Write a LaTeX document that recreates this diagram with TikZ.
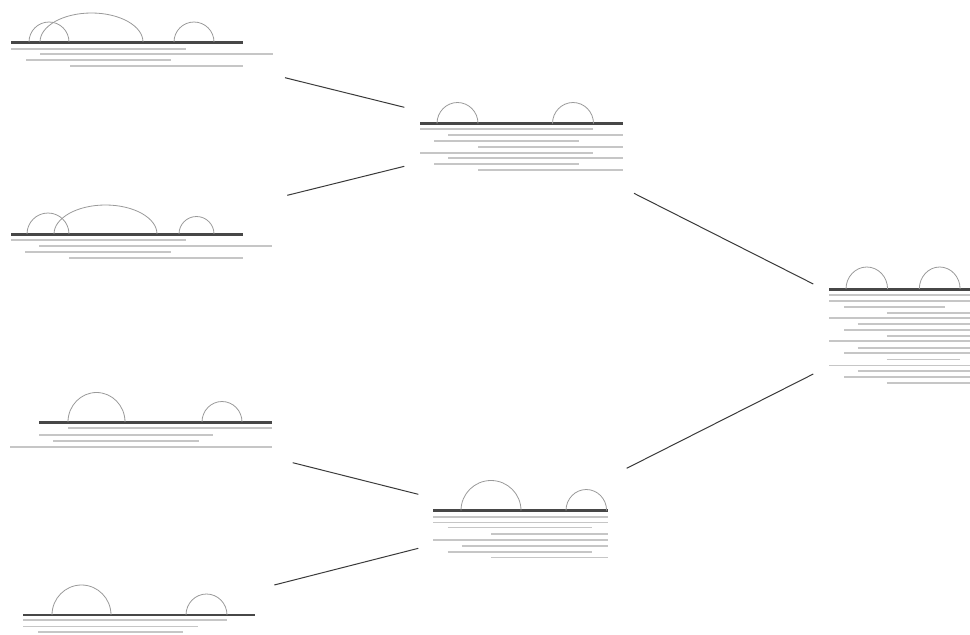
\documentclass[tikz,border=0pt]{standalone}
\usepackage{tikz}
\definecolor{barc}{HTML}{474747}
\definecolor{seqc}{HTML}{C6C6C6}
\definecolor{arcc}{HTML}{9A9A9A}
\definecolor{linkc}{HTML}{3A3A3A}
\tikzset{
  bar/.style={draw=barc,line width=2.6pt},
  seq/.style={draw=seqc,line width=1.9pt},
  bond/.style={draw=arcc,line width=0.8pt},
  link/.style={draw=linkc,line width=1pt},
}
\begin{document}
\begin{tikzpicture}[x=1pt,y=-1pt]
\useasboundingbox (0,0) rectangle (970,635);
\clip (0,0) rectangle (970,635);
% ---------- panel A (top left)
\draw[seq] (11,48.7) -- (186,48.7);
\draw[seq] (40,54.3) -- (273,54.3);
\draw[seq] (26,60) -- (171,60);
\draw[seq] (70,66) -- (243,66);
\draw[bar] (11,42.5) -- (243,42.5);
\draw[bond] (29,42) arc[start angle=180,end angle=0,x radius=20pt,y radius=20pt];
\draw[bond] (40,42) arc[start angle=180,end angle=0,x radius=51.5pt,y radius=29pt];
\draw[bond] (174,42) arc[start angle=180,end angle=0,x radius=20pt,y radius=20pt];
% ---------- panel B
\draw[seq] (11,240.3) -- (186,240.3);
\draw[seq] (39,246) -- (272,246);
\draw[seq] (25,251.7) -- (171,251.7);
\draw[seq] (69,257.7) -- (243,257.7);
\draw[bar] (11,234.3) -- (243,234.3);
\draw[bond] (27,234) arc[start angle=180,end angle=0,x radius=21pt,y radius=21pt];
\draw[bond] (54,234) arc[start angle=180,end angle=0,x radius=51.5pt,y radius=29pt];
\draw[bond] (179,234) arc[start angle=180,end angle=0,x radius=17.5pt,y radius=17.5pt];
% ---------- panel C
\draw[seq] (68,428.3) -- (272,428.3);
\draw[seq] (39,435) -- (213,435);
\draw[seq] (53,441) -- (199,441);
\draw[seq] (10,446.7) -- (272,446.7);
\draw[bar] (39,422.3) -- (272,422.3);
\draw[bond] (68,422) arc[start angle=180,end angle=0,x radius=28.5pt,y radius=29.5pt];
\draw[bond] (202,422) arc[start angle=180,end angle=0,x radius=20pt,y radius=20.5pt];
% ---------- panel D
\draw[seq] (23,620.3) -- (227,620.3);
\draw[seq,line width=1.5pt] (23,626.7) -- (198,626.7);
\draw[seq] (38,632.3) -- (183,632.3);
\draw[bar] (23,615) -- (255,615);
\draw[bond] (52,615) arc[start angle=180,end angle=0,x radius=29.5pt,y radius=30pt];
\draw[bond] (186,615) arc[start angle=180,end angle=0,x radius=20.5pt,y radius=21pt];
% ---------- panel E (middle top)
\draw[seq,line width=1.5pt] (420,129) -- (593,129);
\draw[seq] (448,135) -- (623,135);
\draw[seq] (434,140.7) -- (579,140.7);
\draw[seq] (478,146.7) -- (623,146.7);
\draw[seq] (420,152.7) -- (593,152.7);
\draw[seq,line width=2.2pt] (448,158.3) -- (623,158.3);
\draw[seq] (434,164) -- (579,164);
\draw[seq,line width=1.5pt] (478,170) -- (623,170);
\draw[bar] (420,123.7) -- (623,123.7);
\draw[bond] (437,123.5) arc[start angle=180,end angle=0,x radius=20.5pt,y radius=21pt];
\draw[bond] (552.5,123.5) arc[start angle=180,end angle=0,x radius=20.5pt,y radius=21pt];
% ---------- panel F (middle bottom)
\draw[seq,line width=2.2pt] (433,516.7) -- (608,516.7);
\draw[seq,line width=1.5pt] (433,522.3) -- (608,522.3);
\draw[seq,line width=1.5pt] (447.7,527.7) -- (592.3,527.7);
\draw[seq] (491,534) -- (608,534);
\draw[seq] (433,539.7) -- (608,539.7);
\draw[seq] (461.7,545.7) -- (608,545.7);
\draw[seq] (447.7,551.7) -- (592.3,551.7);
\draw[seq,line width=1.5pt] (491,557.3) -- (608,557.3);
\draw[bar] (433,510.7) -- (608,510.7);
\draw[bond] (461,510.5) arc[start angle=180,end angle=0,x radius=30pt,y radius=30pt];
\draw[bond] (566,510.5) arc[start angle=180,end angle=0,x radius=20.3pt,y radius=21pt];
% ---------- panel G (right)
\draw[seq] (829,294.7) -- (970,294.7);
\draw[seq] (829,300.7) -- (970,300.7);
\draw[seq] (844,306.7) -- (945.3,306.7);
\draw[seq] (886.7,312.7) -- (970,312.7);
\draw[seq] (829,318.3) -- (970,318.3);
\draw[seq] (857.7,324) -- (970,324);
\draw[seq] (844,330) -- (970,330);
\draw[seq] (886.7,335.7) -- (970,335.7);
\draw[seq] (829,341.3) -- (970,341.3);
\draw[seq] (857.7,347.7) -- (970,347.7);
\draw[seq] (844,353.3) -- (970,353.3);
\draw[seq,line width=1.5pt] (886.7,359.3) -- (960,359.3);
\draw[seq,line width=1.5pt] (829,365.3) -- (970,365.3);
\draw[seq] (857.7,370.7) -- (970,370.7);
\draw[seq] (844,376.7) -- (970,376.7);
\draw[seq] (886.7,382.7) -- (970,382.7);
\draw[bar] (829.3,289.3) -- (970,289.3);
\draw[bond] (846,289) arc[start angle=180,end angle=0,x radius=20.8pt,y radius=22pt];
\draw[bond] (919.3,289) arc[start angle=180,end angle=0,x radius=20.4pt,y radius=22pt];
% ---------- connector end points
\coordinate (aout) at (285,77.7);
\coordinate (bout) at (287.3,195.3);
\coordinate (ein1) at (404.3,107.3);
\coordinate (ein2) at (404.3,166.3);
\coordinate (cout) at (292.7,462.7);
\coordinate (dout) at (274.3,585);
\coordinate (fin1) at (418.3,494.3);
\coordinate (fin2) at (418.3,548.3);
\coordinate (eout) at (634,193.3);
\coordinate (fout) at (626.7,468.3);
\coordinate (gin1) at (813.3,284);
\coordinate (gin2) at (813.3,374);
% ---------- connectors
\draw[link] (aout) -- (ein1);
\draw[link] (bout) -- (ein2);
\draw[link] (cout) -- (fin1);
\draw[link] (dout) -- (fin2);
\draw[link] (eout) -- (gin1);
\draw[link] (fout) -- (gin2);
\end{tikzpicture}
\end{document}
